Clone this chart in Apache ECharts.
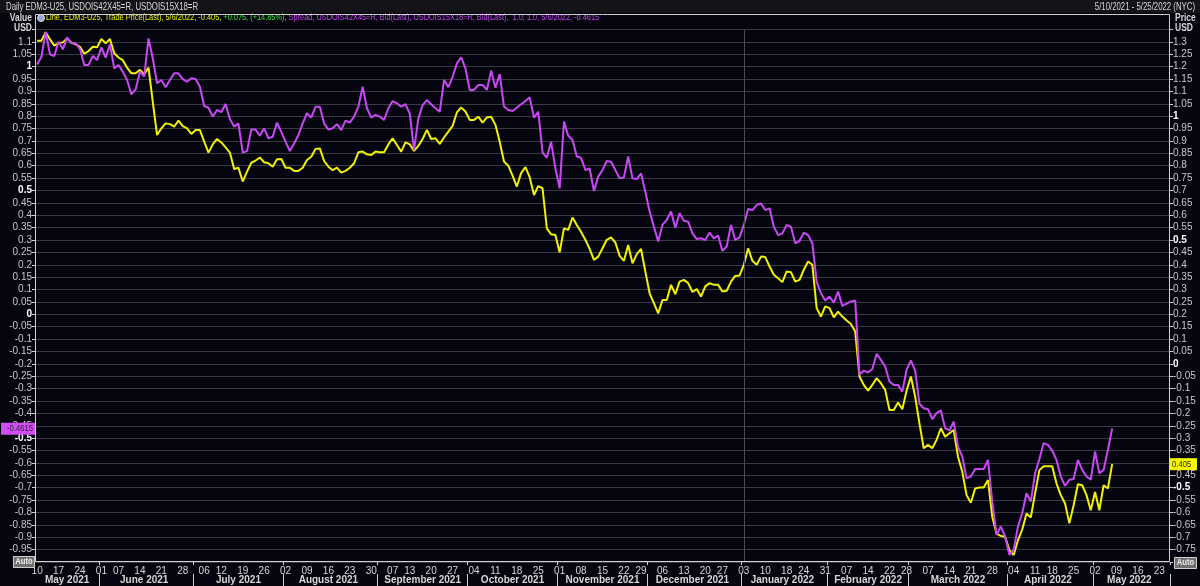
<!DOCTYPE html>
<html><head><meta charset="utf-8">
<script src="https://cdn.jsdelivr.net/npm/echarts@6/dist/echarts.min.js"></script>
<style>html,body{margin:0;padding:0;background:#05050f;}#c{width:1200px;height:586px;}</style>
</head><body><div id="c"></div><script>
// ---------- data ----------
const startDate = '2021-05-10';
const endDate = '2022-05-25';
const holidays = ['2021-05-31','2021-07-05','2021-09-06','2021-11-25','2021-12-24','2022-01-17','2022-02-21','2022-04-15'];
function buildTradingDays(){
  const out=[]; let d=new Date(startDate+'T00:00:00Z'); const e=new Date(endDate+'T00:00:00Z');
  while(d<=e){ const wd=d.getUTCDay(); const s=d.toISOString().slice(0,10);
    if(wd>0&&wd<6&&!holidays.includes(s)) out.push(s); d=new Date(d.getTime()+86400000);} return out;
}
const categories = buildTradingDays();
const monthNames = ['January','February','March','April','May','June','July','August','September','October','November','December'];

// EDM3-U25 Trade Price (right axis), one value per trading day from 2021-05-10 to 2022-05-06
const edm3Values = [
1.305,1.305,1.339,1.31,1.285,1.295,1.298,1.314,1.297,1.29,
1.28,1.252,1.263,1.28,1.278,1.312,1.294,1.312,1.254,1.237,
1.226,1.196,1.173,1.173,1.187,1.169,1.196,1.058,0.924,0.951,
0.971,0.968,0.958,0.982,0.96,0.951,0.928,0.944,0.944,0.897,
0.853,0.886,0.908,0.894,0.874,0.853,0.787,0.792,0.736,0.776,
0.812,0.821,0.833,0.814,0.81,0.796,0.826,0.827,0.792,0.792,
0.779,0.779,0.792,0.823,0.836,0.868,0.87,0.819,0.796,0.782,
0.792,0.772,0.779,0.792,0.81,0.854,0.857,0.846,0.843,0.857,
0.854,0.854,0.886,0.911,0.884,0.857,0.894,0.886,0.86,0.88,
0.908,0.945,0.908,0.911,0.888,0.914,0.938,0.961,1.015,1.035,
1.019,0.985,0.985,0.998,0.974,0.995,0.998,0.965,0.897,0.817,
0.8,0.76,0.716,0.77,0.794,0.754,0.682,0.718,0.709,0.547,
0.523,0.52,0.45,0.547,0.541,0.591,0.561,0.532,0.501,0.464,
0.42,0.433,0.467,0.501,0.511,0.49,0.436,0.416,0.48,0.406,
0.443,0.464,0.373,0.285,0.245,0.204,0.258,0.258,0.319,0.281,
0.332,0.339,0.326,0.29,0.302,0.272,0.313,0.326,0.319,0.319,
0.292,0.295,0.332,0.355,0.357,0.4,0.467,0.416,0.4,0.433,
0.431,0.393,0.36,0.346,0.33,0.373,0.37,0.332,0.339,0.38,
0.413,0.4,0.225,0.191,0.232,0.225,0.188,0.211,0.191,0.175,
0.161,0.131,-0.051,-0.085,-0.108,-0.085,-0.058,-0.078,-0.105,-0.186,
-0.186,-0.156,-0.183,-0.108,-0.051,-0.132,-0.24,-0.341,-0.327,-0.341,
-0.307,-0.26,-0.294,-0.28,-0.267,-0.375,-0.435,-0.53,-0.561,-0.503,
-0.499,-0.499,-0.469,-0.617,-0.685,-0.695,-0.698,-0.752,-0.772,-0.712,
-0.669,-0.604,-0.62,-0.523,-0.429,-0.413,-0.413,-0.413,-0.483,-0.53,
-0.564,-0.644,-0.571,-0.486,-0.49,-0.53,-0.591,-0.517,-0.591,-0.49,
-0.503,-0.405];

// Spread USDOIS42X45=R - USDOIS15X18=R (left axis)
const spreadValues = [
1.009,1.04,1.139,1.05,1.043,1.101,1.07,1.118,1.094,1.094,
1.071,1.007,1.007,1.043,1.027,1.078,1.036,1.09,0.993,1.007,
0.98,0.946,0.888,0.908,0.98,0.96,1.114,1.034,0.933,0.946,
0.917,0.946,0.973,0.973,0.95,0.939,0.953,0.95,0.919,0.841,
0.834,0.798,0.825,0.816,0.849,0.789,0.758,0.771,0.653,0.659,
0.746,0.746,0.721,0.751,0.711,0.717,0.774,0.737,0.697,0.659,
0.69,0.724,0.771,0.812,0.794,0.838,0.838,0.771,0.746,0.751,
0.768,0.744,0.782,0.774,0.798,0.838,0.919,0.832,0.794,0.805,
0.798,0.785,0.832,0.861,0.852,0.838,0.849,0.81,0.663,0.79,
0.845,0.865,0.848,0.832,0.818,0.946,0.917,0.959,1.013,1.038,
0.993,0.906,0.906,0.926,0.926,0.906,0.984,0.915,0.97,0.839,
0.825,0.821,0.834,0.848,0.861,0.876,0.794,0.818,0.654,0.632,
0.697,0.589,0.509,0.778,0.721,0.704,0.637,0.632,0.583,0.589,
0.498,0.556,0.583,0.619,0.616,0.583,0.549,0.553,0.637,0.549,
0.546,0.569,0.495,0.415,0.354,0.294,0.361,0.381,0.415,0.35,
0.408,0.378,0.374,0.327,0.304,0.307,0.3,0.33,0.307,0.318,
0.256,0.274,0.361,0.3,0.311,0.361,0.425,0.421,0.441,0.448,
0.421,0.428,0.354,0.32,0.327,0.361,0.354,0.287,0.296,0.33,
0.32,0.287,0.132,0.085,0.056,0.072,0.047,0.092,0.034,0.043,
0.052,0.056,-0.244,-0.227,-0.235,-0.221,-0.159,-0.184,-0.211,-0.271,
-0.285,-0.285,-0.312,-0.224,-0.186,-0.227,-0.361,-0.379,-0.383,-0.423,
-0.399,-0.388,-0.46,-0.469,-0.433,-0.534,-0.574,-0.662,-0.655,-0.625,
-0.625,-0.625,-0.588,-0.756,-0.89,-0.857,-0.897,-0.971,-0.951,-0.857,
-0.803,-0.722,-0.756,-0.642,-0.585,-0.52,-0.527,-0.55,-0.588,-0.655,
-0.692,-0.668,-0.665,-0.588,-0.628,-0.655,-0.668,-0.554,-0.642,-0.628,
-0.547,-0.4615];

const headerTitle = 'Daily EDM3-U25, USDOIS42X45=R, USDOIS15X18=R';
const headerRange = '5/10/2021 - 5/25/2022 (NYC)';
const legendYellow = 'Line, EDM3-U25, Trade Price(Last), 5/6/2022, -0.405, ';
const legendGreen = '+0.075, (+14.85%), ';
const legendPurple = 'Spread, USDOIS42X45=R, Bid(Last), USDOIS15X18=R, Bid(Last),  1.0, 1.0, 5/6/2022, -0.4615';
const yearLineDate = '2022-01-03';

// ---------- helpers ----------
const FONT = '"Liberation Sans",Arial,sans-serif';
const YEL = '#f2f200', PUR = '#c948f5', TXT = '#d6d6d6';
const dayMs = 86400000;
const weekStart = categories.map((d,i)=> i===0 || (new Date(d) - new Date(categories[i-1]))/dayMs >= 3);
const monthStart = categories.map((d,i)=> i>0 && d.slice(5,7)!==categories[i-1].slice(5,7));
const monthMid = new Array(categories.length).fill(false);
(function(){ let s=0; for(let i=1;i<=categories.length;i++){ if(i===categories.length||monthStart[i]){ monthMid[Math.floor((s+i-1)/2)]=true; s=i; } } })();
function fmtNum(v){ let s = Number(v.toFixed(2)); if (Object.is(s,-0)) s = 0; return String(s); }
function yLabel(hideVals){ return v => { for(const h of hideVals) if (Math.abs(v-h)<1e-6) return '';
  const s=fmtNum(v); return Math.abs(v*2-Math.round(v*2))<1e-6 ? '{b|'+s+'}' : s; }; }

const chart = echarts.init(document.getElementById('c'), null, {renderer:'canvas'});
const option = {
  backgroundColor:'#05050f',
  animation:false,
  textStyle:{fontFamily:FONT},
  grid:{left:35, right:30, top:29.5, bottom:24, containLabel:false},
  xAxis:[{
    type:'category', data:categories, boundaryGap:true,
    axisLine:{show:false, onZero:false},
    axisTick:{show:true, length:3, interval:(i)=>monthStart[i], lineStyle:{color:'#cfcfcf'}},
    axisLabel:{interval:(i)=>weekStart[i], formatter:v=>v.slice(8,10), color:TXT, fontSize:10, margin:4, fontFamily:FONT},
    splitLine:{show:false}
  },{
    type:'category', data:categories, boundaryGap:true, position:'bottom', offset:12,
    axisLine:{show:false, onZero:false},
    axisTick:{show:true, length:12, interval:(i)=>monthStart[i], lineStyle:{color:'#cfcfcf'}},
    axisLabel:{interval:(i)=>monthMid[i], formatter:v=>monthNames[+v.slice(5,7)-1]+' '+v.slice(0,4), color:TXT, fontSize:10, fontWeight:'bold', margin:1, fontFamily:FONT},
    splitLine:{show:false}
  }],
  yAxis:[{
    type:'value', position:'left', min:-1, max:1.15, interval:0.05,
    axisLine:{show:false},
    axisTick:{show:true, length:3, lineStyle:{color:'#cfcfcf'}},
    axisLabel:{formatter:yLabel([1.15,-1]), color:'#c8c8c8', fontSize:10, margin:3, fontFamily:FONT,
      rich:{b:{color:'#ffffff', fontWeight:'bold', fontSize:10, fontFamily:FONT}}},
    splitLine:{show:false}
  },{
    type:'value', position:'right', min:-0.8, max:1.35, interval:0.05,
    axisLine:{show:false},
    axisTick:{show:true, length:3, lineStyle:{color:'#cfcfcf'}},
    axisLabel:{formatter:yLabel([1.35,-0.8]), color:'#c8c8c8', fontSize:10, margin:3, fontFamily:FONT,
      rich:{b:{color:'#ffffff', fontWeight:'bold', fontSize:10, fontFamily:FONT}}},
    splitLine:{show:true, lineStyle:{color:'#3a3a42', width:1}}
  }],
  series:[{
    type:'line', name:'EDM3-U25', xAxisIndex:0, yAxisIndex:1, data:edm3Values, symbol:'none',
    lineStyle:{color:YEL, width:2}, z:3,
    markLine:{symbol:'none', silent:true, label:{show:false}, lineStyle:{color:'#4a4a52', type:'solid', width:1},
      data:[{xAxis:yearLineDate}]}
  },{
    type:'line', name:'Spread', xAxisIndex:0, yAxisIndex:0, data:spreadValues, symbol:'none',
    lineStyle:{color:PUR, width:2}, z:4
  }]
};
chart.setOption(option);

// frame, header, legend, labels
const lastSpread = spreadValues[spreadValues.length-1];
const lastEdm3 = edm3Values[edm3Values.length-1];
const ySp = chart.convertToPixel({yAxisIndex:0}, lastSpread);
const yEd = chart.convertToPixel({yAxisIndex:1}, lastEdm3);
chart.setOption({graphic:[
  {type:'rect', shape:{x:0,y:0,width:1200,height:13}, style:{fill:'#141418'}, silent:true, z:0},
  {type:'rect', shape:{x:35.5,y:14.5,width:1134,height:547}, style:{fill:null, stroke:'#d0d0d0', lineWidth:1}, silent:true, z:10},
  {type:'text', x:6, y:7, scaleX:0.78, style:{text:headerTitle, fill:'#d8d8d8', font:'10px '+FONT, textVerticalAlign:'middle'}},
  {type:'text', x:1195, y:7, scaleX:0.78, style:{text:headerRange, fill:'#d8d8d8', font:'10px '+FONT, textAlign:'right', textVerticalAlign:'middle'}},
  {type:'text', x:32, y:18, scaleX:0.85, style:{text:'Value', fill:'#d8d8d8', font:'bold 10px '+FONT, textAlign:'right', textVerticalAlign:'middle'}},
  {type:'text', x:32, y:28, scaleX:0.85, style:{text:'USD', fill:'#d8d8d8', font:'bold 10px '+FONT, textAlign:'right', textVerticalAlign:'middle'}},
  {type:'text', x:1175, y:18, scaleX:0.85, style:{text:'Price', fill:'#d8d8d8', font:'bold 10px '+FONT, textVerticalAlign:'middle'}},
  {type:'text', x:1175, y:28, scaleX:0.85, style:{text:'USD', fill:'#d8d8d8', font:'bold 10px '+FONT, textVerticalAlign:'middle'}},
  {type:'circle', shape:{cx:41, cy:18, r:3.5}, style:{fill:'#9aa6c8', stroke:'#dde', lineWidth:1}},
  {type:'text', x:46, y:18, scaleX:0.82, style:{text:'{y|'+legendYellow+'}{g|'+legendGreen+'}{p|'+legendPurple+'}', textVerticalAlign:'middle',
    rich:{y:{fill:YEL, font:'9px '+FONT}, g:{fill:'#2ee82e', font:'9px '+FONT}, p:{fill:PUR, font:'9px '+FONT}}}},
  {type:'rect', shape:{x:1, y:ySp-6, width:34, height:12}, style:{fill:'#d24cf5'}, z:20},
  {type:'text', x:33, y:ySp, scaleX:0.85, style:{text:String(lastSpread), fill:'#2a2a2a', font:'9px '+FONT, textAlign:'right', textVerticalAlign:'middle'}, z:21},
  {type:'rect', shape:{x:1170, y:yEd-6, width:27, height:12}, style:{fill:'#f5f500'}, z:20},
  {type:'text', x:1172, y:yEd, scaleX:0.85, style:{text:String(Math.abs(lastEdm3)), fill:'#2a2a2a', font:'9px '+FONT, textVerticalAlign:'middle'}, z:21},
  {type:'rect', shape:{x:13.5, y:556.5, width:21, height:11}, style:{fill:'#707070', stroke:'#d0d0d0', lineWidth:1}, z:20},
  {type:'text', x:24, y:562, scaleX:0.85, style:{text:'Auto', fill:'#f0f0f0', font:'bold 9px '+FONT, textAlign:'center', textVerticalAlign:'middle'}, z:21},
  {type:'rect', shape:{x:1174.5, y:557.5, width:22, height:11}, style:{fill:'#707070', stroke:'#d0d0d0', lineWidth:1}, z:20},
  {type:'text', x:1185.5, y:563, scaleX:0.85, style:{text:'Auto', fill:'#f0f0f0', font:'bold 9px '+FONT, textAlign:'center', textVerticalAlign:'middle'}, z:21}
]});
</script></body></html>
